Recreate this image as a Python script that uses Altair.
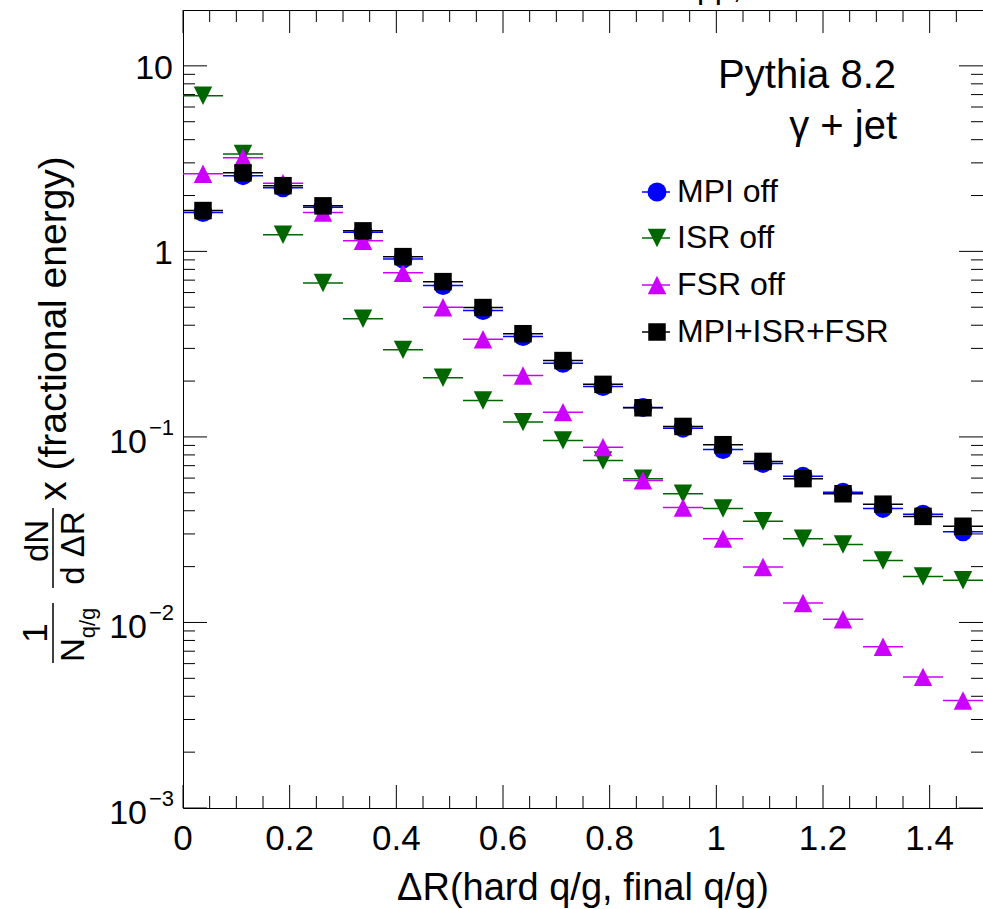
import altair as alt
import pandas as pd

# ---------------- data ----------------
SERIES = ["MPI off", "ISR off", "FSR off", "MPI+ISR+FSR"]
BIN_CENTERS = [0.0375, 0.1125, 0.1875, 0.2625, 0.3375, 0.4125, 0.4875, 0.5625,
               0.6375, 0.7125, 0.7875, 0.8625, 0.9375, 1.0125, 1.0875, 1.1625,
               1.2375, 1.3125, 1.3875, 1.4625]
BIN_HALF_WIDTH = 0.0375

MPI_OFF = [1.62, 2.56, 2.20, 1.73, 1.27, 0.91, 0.654, 0.48, 0.3475, 0.2495,
           0.187, 0.1441, 0.1115, 0.0856, 0.0720, 0.0613, 0.0504, 0.0412, 0.0383, 0.0308]
ISR_OFF = [6.90, 3.35, 1.23, 0.676, 0.433, 0.2946, 0.2083, 0.1572, 0.1202, 0.0958,
           0.0747, 0.0596, 0.0494, 0.0411, 0.0351, 0.0283, 0.0263, 0.0216, 0.0177, 0.0169]
FSR_OFF = [2.62, 3.20, 2.33, 1.62, 1.14, 0.766, 0.50, 0.336, 0.2144, 0.136,
           0.0881, 0.0583, 0.0416, 0.0283, 0.0199, 0.01274, 0.01041, 0.00739, 0.00509, 0.0038]
ALL_ON = [1.66, 2.65, 2.26, 1.76, 1.29, 0.937, 0.687, 0.498, 0.360, 0.258,
          0.192, 0.1436, 0.1139, 0.0908, 0.0738, 0.0596, 0.0494, 0.0434, 0.0373, 0.0330]

X_MAJOR_TICKS = [0, 0.2, 0.4, 0.6, 0.8, 1.0, 1.2, 1.4]
X_TICK_LABELS = ["0", "0.2", "0.4", "0.6", "0.8", "1", "1.2", "1.4"]
X_MINOR_TICKS = [0.05, 0.1, 0.15, 0.25, 0.3, 0.35, 0.45, 0.5, 0.55, 0.65, 0.7, 0.75,
                 0.85, 0.9, 0.95, 1.05, 1.1, 1.15, 1.25, 1.3, 1.35, 1.45]
Y_MAJOR_TICKS = [0.001, 0.01, 0.1, 1, 10]
Y_TICK_BASE = ["10", "10", "10", "1", "10"]
Y_TICK_EXP = ["\u22123", "\u22122", "\u22121", "", ""]
Y_MINOR_TICKS = [0.002, 0.003, 0.004, 0.005, 0.006, 0.007, 0.008, 0.009,
                 0.02, 0.03, 0.04, 0.05, 0.06, 0.07, 0.08, 0.09,
                 0.2, 0.3, 0.4, 0.5, 0.6, 0.7, 0.8, 0.9,
                 2, 3, 4, 5, 6, 7, 8, 9]

X_TITLE = "\u0394R(hard q/g, final q/g)"
Y_TITLE_MAIN = "x (fractional energy)"
Y_TITLE_NUM1 = "1"
Y_TITLE_DEN1 = "N"
Y_TITLE_SUB1 = "q/g"
Y_TITLE_NUM2 = "dN"
Y_TITLE_DEN2 = "d \u0394R"
TEXT_LINES = ["Pythia 8.2", "\u03b3 + jet"]
TOP_TEXT = "pp, \u221as = 13 TeV"

# ---------------- styles ----------------
FONT = "Liberation Sans, Arial, Helvetica, sans-serif"
W, H = 800, 798
COLORS = {"MPI off": "#0000ff", "ISR off": "#006600", "FSR off": "#cc00ff", "MPI+ISR+FSR": "#000000"}
SHAPES = {"MPI off": "circle", "ISR off": "M-1,-1L1,-1L0,1Z",
          "FSR off": "M0,-1L1,1L-1,1Z", "MPI+ISR+FSR": "square"}
SIZES = {"MPI off": 361, "ISR off": 340, "FSR off": 340, "MPI+ISR+FSR": 306}

rows = []
for name, vals in zip(SERIES, [MPI_OFF, ISR_OFF, FSR_OFF, ALL_ON]):
    for xc, v in zip(BIN_CENTERS, vals):
        rows.append({"series": name, "x": xc, "xlo": xc - BIN_HALF_WIDTH,
                     "xhi": xc + BIN_HALF_WIDTH, "y": v})
df = pd.DataFrame(rows)

xs = alt.Scale(domain=[0, 1.5], nice=False, zero=False)
ys = alt.Scale(type="log", domain=[0.001, 20], nice=False)


def X(f):
    return alt.X(f, type="quantitative", scale=xs, axis=None)


def Y(f):
    return alt.Y(f, type="quantitative", scale=ys, axis=None)


layers = []

# data: error bars + markers, drawn series by series (ROOT order)
for s in SERIES:
    base = alt.Chart(df).transform_filter(alt.datum.series == s)
    layers.append(base.mark_rule(color=COLORS[s], strokeWidth=1.5).encode(
        x=X("xlo"), x2="xhi", y=Y("y")))
    layers.append(base.mark_point(filled=True, shape=SHAPES[s], size=SIZES[s],
                                  color=COLORS[s], opacity=1, strokeWidth=0).encode(
        x=X("x"), y=Y("y")))

# ticks (inward, on all four sides)
xmaj = pd.DataFrame({"v": X_MAJOR_TICKS, "lab": X_TICK_LABELS})
xmin = pd.DataFrame({"v": X_MINOR_TICKS})
ymaj = pd.DataFrame({"v": Y_MAJOR_TICKS, "base": Y_TICK_BASE, "exp": Y_TICK_EXP})
ymin = pd.DataFrame({"v": Y_MINOR_TICKS})

for d, L in [(xmaj, 23), (xmin, 12)]:
    layers.append(alt.Chart(d).mark_rule(color="black", strokeWidth=1).encode(
        x=X("v"), y=alt.value(H), y2=alt.value(H - L)))
    layers.append(alt.Chart(d).mark_rule(color="black", strokeWidth=1).encode(
        x=X("v"), y=alt.value(0), y2=alt.value(L)))
for d, L in [(ymaj, 24), (ymin, 12)]:
    layers.append(alt.Chart(d).mark_rule(color="black", strokeWidth=1).encode(
        y=Y("v"), x=alt.value(0), x2=alt.value(L)))
    layers.append(alt.Chart(d).mark_rule(color="black", strokeWidth=1).encode(
        y=Y("v"), x=alt.value(W), x2=alt.value(W - L)))

# x tick labels
layers.append(alt.Chart(xmaj).mark_text(font=FONT, fontSize=35, align="center",
                                        baseline="alphabetic", color="black").encode(
    x=X("v"), y=alt.value(840), text="lab:N"))

# y tick labels
ylab = alt.Chart(ymaj)
layers.append(ylab.transform_filter("datum.exp != ''").mark_text(
    font=FONT, fontSize=34, align="right", baseline="alphabetic", dy=16, color="black").encode(
    y=Y("v"), x=alt.value(-36), text="base:N"))
layers.append(ylab.transform_filter("datum.exp != ''").mark_text(
    font=FONT, fontSize=22, align="right", baseline="alphabetic", dy=-2, color="black").encode(
    y=Y("v"), x=alt.value(-9), text="exp:N"))
layers.append(ylab.transform_filter("datum.exp == ''").mark_text(
    font=FONT, fontSize=34, align="right", baseline="alphabetic", dy=13, color="black").encode(
    y=Y("v"), x=alt.value(-10), text="base:N"))


def txt(t, x, y, size, align="center", baseline="alphabetic", angle=0):
    kw = dict(font=FONT, fontSize=size, align=align, baseline=baseline, color="black")
    if angle:
        kw["angle"] = angle
    return alt.Chart(pd.DataFrame({"t": [t]})).mark_text(**kw).encode(
        x=alt.value(x), y=alt.value(y), text="t:N")


def bar(x, y1, y2):
    return alt.Chart(pd.DataFrame({"a": [0]})).mark_rule(color="black", strokeWidth=1.5).encode(
        x=alt.value(x), y=alt.value(y1), y2=alt.value(y2))


# x title
layers.append(txt(X_TITLE, 400, 890, 38))

# y title (rotated, with two fractions)
layers.append(txt(Y_TITLE_MAIN, -117, 318.5, 39, angle=270))
layers.append(bar(-130, 498, 578))
layers.append(txt(Y_TITLE_NUM2, -135, 531, 33, angle=270))
layers.append(txt(Y_TITLE_DEN2, -99, 538, 33, angle=270))
layers.append(bar(-130, 593, 653))
layers.append(txt(Y_TITLE_NUM1, -136, 623, 35, angle=270))
layers.append(txt(Y_TITLE_DEN1, -99, 640, 33, angle=270))
layers.append(txt(Y_TITLE_SUB1, -88, 613, 22, angle=270))

# annotation text
layers.append(txt(TEXT_LINES[0], 713, 78, 40, align="right"))
layers.append(txt(TEXT_LINES[1], 714, 129, 40, align="right"))
layers.append(txt(TOP_TEXT, 514, -12, 32, align="left"))

# legend
LEG_Y = [182, 228, 275, 322]
for s, ly in zip(SERIES, LEG_Y):
    one = alt.Chart(pd.DataFrame({"label": [s]}))
    layers.append(one.mark_rule(color=COLORS[s], strokeWidth=1.5).encode(
        x=alt.value(459), x2=alt.value(487), y=alt.value(ly)))
    layers.append(one.mark_point(filled=True, shape=SHAPES[s], size=SIZES[s],
                                 color=COLORS[s], opacity=1, strokeWidth=0).encode(
        x=alt.value(474), y=alt.value(ly)))
    layers.append(one.mark_text(font=FONT, fontSize=32, align="left", baseline="middle",
                                color="black").encode(
        x=alt.value(494), y=alt.value(ly), text="label:N"))

chart = alt.layer(*layers).properties(
    width=W, height=H,
    padding={"left": 183, "top": 10, "right": 0, "bottom": 101},
    autosize=alt.AutoSizeParams(type="none"),
    background="white",
).configure_view(stroke="black", strokeWidth=1)

chart.save("out.html", embed_options={"renderer": "svg", "actions": False})
